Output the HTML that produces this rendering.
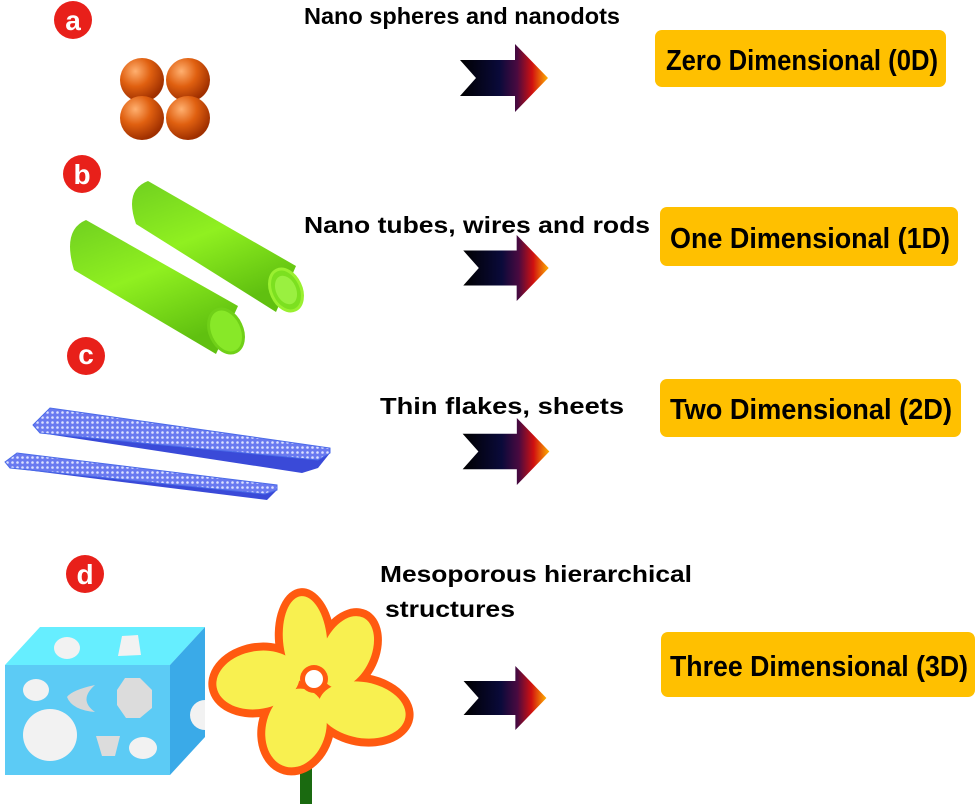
<!DOCTYPE html>
<html><head><meta charset="utf-8"><style>
html,body{margin:0;padding:0;background:#fff}
svg{display:block}
text{font-family:"Liberation Sans",sans-serif;font-weight:bold}
</style></head><body>
<svg width="980" height="804" viewBox="0 0 980 804" xmlns="http://www.w3.org/2000/svg">
<defs>
<linearGradient id="ar" x1="0" x2="1" y1="0" y2="0">
<stop offset="0" stop-color="#000"/><stop offset="0.45" stop-color="#0a0a3a"/><stop offset="0.65" stop-color="#4a0a40"/><stop offset="0.82" stop-color="#d01010"/><stop offset="1" stop-color="#ffb000"/>
</linearGradient>
<radialGradient id="sp" cx="0.35" cy="0.3" r="0.7">
<stop offset="0" stop-color="#ffb070"/><stop offset="0.5" stop-color="#e06010"/><stop offset="1" stop-color="#a03000"/>
</radialGradient>
<linearGradient id="tb" x1="0" x2="0.5" y1="0" y2="1">
<stop offset="0" stop-color="#70d020"/><stop offset="0.5" stop-color="#90f020"/><stop offset="1" stop-color="#60c010"/>
</linearGradient>
<pattern id="dots" width="5" height="5" patternUnits="userSpaceOnUse">
<rect width="5" height="5" fill="#6a7af0"/><circle cx="2.5" cy="2.5" r="1.3" fill="#dde2ff"/>
</pattern>
<symbol id="arrow" viewBox="0 0 88 68">
<polygon points="0,16 55,16 55,0 88,34 55,68 55,52 0,52 16,34" fill="url(#ar)"/>
</symbol>
</defs>

<g fill="#e8201a"><circle cx="73" cy="20" r="19"/><circle cx="82" cy="174" r="19"/><circle cx="86" cy="356" r="19"/><circle cx="85" cy="574" r="19"/></g>
<g fill="#fff" font-size="28" text-anchor="middle">
<text x="73" y="30">a</text><text x="82" y="184">b</text><text x="86" y="364">c</text><text x="85" y="584">d</text></g>

<g><circle cx="142" cy="80" r="22" fill="url(#sp)"/><circle cx="188" cy="80" r="22" fill="url(#sp)"/><circle cx="142" cy="118" r="22" fill="url(#sp)"/><circle cx="188" cy="118" r="22" fill="url(#sp)"/></g>

<!-- tubes -->
<g>
<path d="M148,181 L296,266 L276,312 L136,224 Q124,190 148,181Z" fill="url(#tb)"/>
<ellipse cx="286" cy="290" rx="15" ry="22" transform="rotate(-25 286 290)" fill="#7ce020" stroke="#9af030" stroke-width="3"/>
<ellipse cx="286" cy="290" rx="10" ry="15" transform="rotate(-25 286 290)" fill="#9af040"/>
<path d="M86,220 L238,306 L216,354 L74,270 Q62,230 86,220Z" fill="url(#tb)"/>
<ellipse cx="226" cy="331" rx="16" ry="23" transform="rotate(-25 226 331)" fill="#88e828" stroke="#70d018" stroke-width="3"/>
</g>

<!-- sheets -->
<g>
<polygon points="33,425 40,433 302,473 318,468 330,453" fill="#3a4ad8"/>
<polygon points="33,425 50,408 330,448 330,453 318,460 40,433" fill="url(#dots)" stroke="#4a6ae8" stroke-width="1"/>
<polygon points="5,462 10,468 267,500 277,490" fill="#3a4ad8"/>
<polygon points="5,462 17,453 277,485 277,490 265,494 10,468" fill="url(#dots)" stroke="#4a6ae8" stroke-width="1"/>
</g>

<!-- cube -->
<g>
<polygon points="5,665 40,627 205,627 170,665" fill="#66eeff"/>
<polygon points="170,665 205,627 205,737 170,775" fill="#3aaae8"/>
<rect x="5" y="665" width="165" height="110" fill="#5ccbf5"/>
<g fill="#f2f2f2">
<ellipse cx="67" cy="648" rx="13" ry="11"/><polygon points="122,636 138,635 141,655 118,656"/>
<ellipse cx="36" cy="690" rx="13" ry="11"/><ellipse cx="50" cy="735" rx="27" ry="26"/>
<polygon points="125,678 140,678 152,690 152,708 140,718 126,718 117,705 117,690" fill="#dcdcdc"/>
<polygon points="96,736 120,736 115,756 102,756" fill="#dcdcdc"/><ellipse cx="143" cy="748" rx="14" ry="11"/>
<path d="M95,685 Q72,690 67,697 Q72,710 95,712 Q78,700 95,685Z" fill="#d8d8d8"/>
<path d="M205,700 A14,14 0 0 0 205,730 Z"/>
</g></g>

<!-- flower -->
<g>
<rect x="300" y="755" width="12" height="49" fill="#1a6a10"/>
<g fill="#ff5a10">
<ellipse cx="258" cy="680" rx="50" ry="37" transform="rotate(-10 258 680)"/>
<ellipse cx="305" cy="640" rx="30" ry="52" transform="rotate(-5 305 640)"/>
<ellipse cx="347" cy="652" rx="32" ry="46" transform="rotate(25 347 652)"/>
<ellipse cx="362" cy="710" rx="52" ry="36" transform="rotate(10 362 710)"/>
<ellipse cx="296" cy="728" rx="38" ry="48" transform="rotate(15 296 728)"/>
</g>
<g fill="#f8f050">
<ellipse cx="258" cy="680" rx="42" ry="29" transform="rotate(-10 258 680)"/>
<ellipse cx="305" cy="640" rx="22" ry="44" transform="rotate(-5 305 640)"/>
<ellipse cx="347" cy="652" rx="24" ry="38" transform="rotate(25 347 652)"/>
<ellipse cx="362" cy="710" rx="44" ry="28" transform="rotate(10 362 710)"/>
<ellipse cx="296" cy="728" rx="30" ry="40" transform="rotate(15 296 728)"/>
</g>
<circle cx="314" cy="679" r="14" fill="#ff5a10"/><circle cx="314" cy="679" r="9" fill="#fff"/>
</g>

<g font-size="23" fill="#000">
<text x="304" y="24" textLength="316" lengthAdjust="spacingAndGlyphs">Nano spheres and nanodots</text>
<text x="304" y="233" textLength="346" lengthAdjust="spacingAndGlyphs">Nano tubes, wires and rods</text>
<text x="380" y="414" textLength="244" lengthAdjust="spacingAndGlyphs">Thin flakes, sheets</text>
<text x="380" y="582" textLength="312" lengthAdjust="spacingAndGlyphs">Mesoporous hierarchical</text>
<text x="385" y="617" textLength="130" lengthAdjust="spacingAndGlyphs">structures</text>
</g>

<use href="#arrow" x="460" y="44" width="88" height="68"/>
<use href="#arrow" x="460" y="235" width="92" height="66"/>
<use href="#arrow" x="460" y="418" width="92" height="67"/>
<use href="#arrow" x="460" y="666" width="90" height="64"/>

<g fill="#ffc000">
<rect x="655" y="30" width="291" height="57" rx="7"/>
<rect x="660" y="207" width="298" height="59" rx="7"/>
<rect x="660" y="379" width="301" height="58" rx="7"/>
<rect x="661" y="632" width="314" height="65" rx="7"/>
</g>
<g font-size="29" fill="#000">
<text x="666" y="70" textLength="272" lengthAdjust="spacingAndGlyphs">Zero Dimensional (0D)</text>
<text x="670" y="248" textLength="280" lengthAdjust="spacingAndGlyphs">One Dimensional (1D)</text>
<text x="670" y="419" textLength="282" lengthAdjust="spacingAndGlyphs">Two Dimensional (2D)</text>
<text x="670" y="676" textLength="298" lengthAdjust="spacingAndGlyphs">Three Dimensional (3D)</text>
</g>
</svg>
</body></html>
